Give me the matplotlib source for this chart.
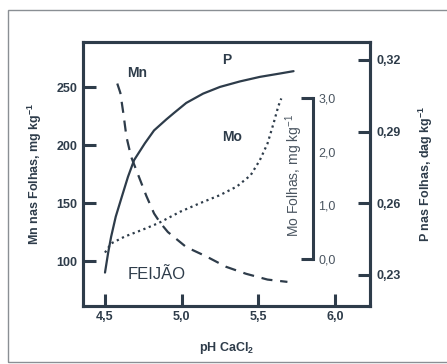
import matplotlib
matplotlib.use("Agg")
import matplotlib.pyplot as plt
from matplotlib.patches import Rectangle

# data
ph_p = [4.50, 4.52, 4.54, 4.57, 4.61, 4.65, 4.69, 4.76, 4.82, 4.90, 4.95, 5.03,
        5.14, 5.25, 5.38, 5.51, 5.64, 5.73]
p_vals = [0.2310, 0.2391, 0.2460, 0.2544, 0.2628, 0.2711, 0.2781, 0.2851, 0.2905,
          0.2951, 0.2978, 0.3020, 0.3059, 0.3087, 0.3110, 0.3129, 0.3143, 0.3153]

ph_mn = [4.58, 4.60, 4.62, 4.64, 4.67, 4.72, 4.77, 4.82, 4.86, 4.91, 5.03, 5.16,
         5.29, 5.42, 5.56, 5.69]
mn_vals = [253, 245, 227, 207, 190, 173, 156, 141, 133, 125, 112, 104, 95, 89, 84, 82]

ph_mo = [4.50, 4.54, 4.63, 4.74, 4.85, 4.99, 5.12, 5.25, 5.36, 5.45, 5.51, 5.56,
         5.60, 5.63, 5.65]
mo_vals = [0.12, 0.29, 0.42, 0.54, 0.67, 0.88, 1.04, 1.19, 1.35, 1.56, 1.84, 2.15,
           2.53, 2.84, 2.99]

x_ticks = [4.5, 5.0, 5.5, 6.0]
x_labels = ["4,5", "5,0", "5,5", "6,0"]
mn_ticks = [100, 150, 200, 250]
p_ticks = [0.23, 0.26, 0.29, 0.32]
p_labels = ["0,23", "0,26", "0,29", "0,32"]
mo_ticks = [0.0, 1.0, 2.0, 3.0]
mo_labels = ["0,0", "1,0", "2,0", "3,0"]

INK = "#2e3c4a"

plt.rcParams["font.family"] = ["Liberation Sans", "DejaVu Sans"]
plt.rcParams["mathtext.fontset"] = "custom"
plt.rcParams["mathtext.rm"] = "Liberation Sans"
plt.rcParams["mathtext.bf"] = "Liberation Sans:bold"
plt.rcParams["mathtext.default"] = "regular"

fig = plt.figure(figsize=(4.47, 3.64), dpi=100)
fig.patches.append(Rectangle((0.018, 0.005), 1.0, 0.968, transform=fig.transFigure,
                             fill=False, edgecolor="#8a8f94", linewidth=1.0))

ax = fig.add_axes([0.1857, 0.1593, 0.642, 0.7253])
ax.set_xlim(4.3565, 6.2286)
ax.set_ylim(61.2, 288.8)

ax_p = ax.twinx()
ax_p.set_ylim(0.217, 0.3275)

ax_mo = ax.twinx()
ax_mo.set_ylim(-0.875, 4.041)

# curves
ax_p.plot(ph_p, p_vals, color=INK, linewidth=1.6, solid_capstyle="round",
          solid_joinstyle="round")
ax.plot(ph_mn, mn_vals, color=INK, linewidth=1.6, linestyle=(0, (5, 3.5)))
ax_mo.plot(ph_mo, mo_vals, color=INK, linewidth=1.6, linestyle=(0, (1, 1.6)))

# main frame and ticks
for sp in ax.spines.values():
    sp.set_linewidth(2.2)
    sp.set_color(INK)
for name, sp in ax_p.spines.items():
    sp.set_linewidth(2.2)
    sp.set_color(INK)

tick_font = dict(fontsize=9, fontweight="bold", color=INK)
ax.set_xticks(x_ticks)
ax.set_xticklabels(x_labels, **tick_font)
ax.set_yticks(mn_ticks)
ax.set_yticklabels([str(t) for t in mn_ticks], **tick_font)
ax.tick_params(axis="both", direction="in", length=9, width=2.2, color=INK, pad=4)
ax.tick_params(axis="x", pad=3.5)

ax_p.set_yticks(p_ticks)
ax_p.set_yticklabels(p_labels, **tick_font)
ax_p.tick_params(axis="y", direction="in", length=9, width=2.2, color=INK, pad=5)

# Mo scale drawn inside the plot
for name in ["left", "top", "bottom"]:
    ax_mo.spines[name].set_visible(False)
ax_mo.spines["right"].set_position(("axes", 0.801))
ax_mo.spines["right"].set_bounds(0, 3)
ax_mo.spines["right"].set_linewidth(2.2)
ax_mo.spines["right"].set_color(INK)
ax_mo.set_yticks([0.0, 3.0])
ax_mo.set_yticklabels([mo_labels[0], mo_labels[3]], fontsize=9, color="#4a5560")
ax_mo.set_yticks([1.0, 2.0], labels=[mo_labels[1], mo_labels[2]], minor=True,
                 fontsize=9, color="#4a5560")
ax_mo.tick_params(axis="y", which="major", direction="in", length=9, width=2.2,
                  color=INK, pad=4)
ax_mo.tick_params(axis="y", which="minor", length=0, pad=4)
ax_mo.text(0.735, 0.495, r"Mo Folhas, mg kg$^{-1}$", transform=ax.transAxes,
           rotation=90, ha="center", va="center", fontsize=10, color="#4a5560")

# axis labels
ax.set_xlabel(r"pH CaCl$_2$", fontsize=9, fontweight="bold", color=INK, labelpad=12)
ax.set_ylabel(r"Mn nas Folhas, mg kg$^{-1}$", fontsize=9, fontweight="bold",
              color=INK, labelpad=9)
ax_p.set_ylabel(r"P nas Folhas, dag kg$^{-1}$", fontsize=9, fontweight="bold",
                color=INK, labelpad=11)

# curve annotations
ax.text(5.296, 273, "P", fontsize=10, fontweight="bold", color=INK, ha="center", va="center")
ax.text(4.709, 262, "Mn", fontsize=10, fontweight="bold", color=INK, ha="center", va="center")
ax.text(5.328, 207, "Mo", fontsize=10, fontweight="bold", color=INK, ha="center", va="center")
ax.text(4.839, 88, "FEIJÃO", fontsize=12, color=INK, ha="center", va="center")

fig.savefig("out.png", dpi=100)
